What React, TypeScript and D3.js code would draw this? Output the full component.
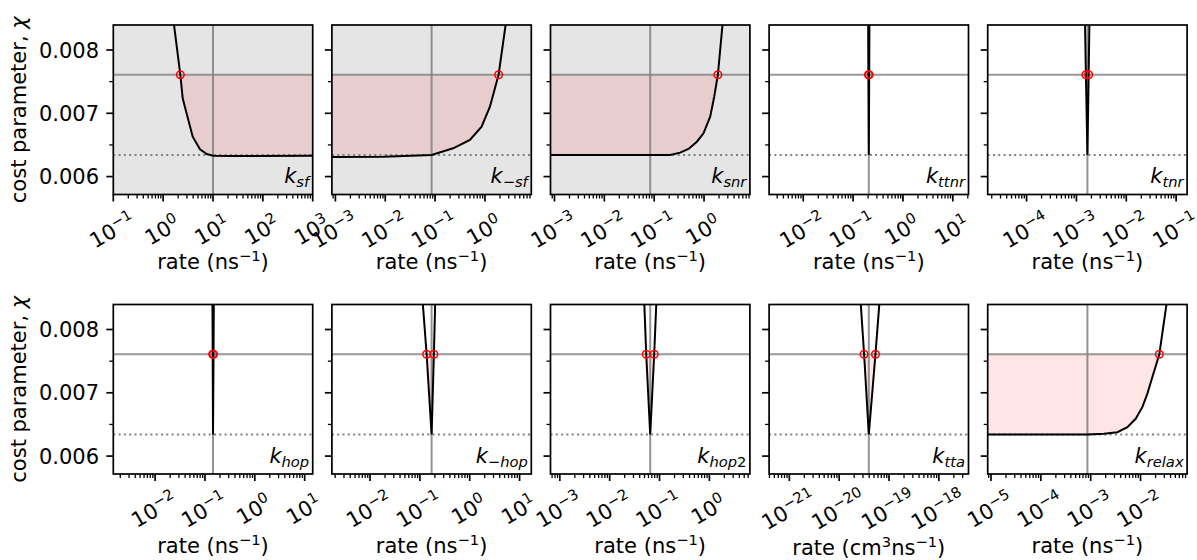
import * as React from 'react';
import * as d3 from 'd3';

// cost threshold (solid gray line) and minimum cost (dotted line)
const threshold = 0.00761;
const chiMin = 0.006341;
const yDomain = [0.005717, 0.008395];
const yMajor = [0.006, 0.007, 0.008];
const yMinor = [0.0065, 0.0075];
const yTickLabels = ['0.006', '0.007', '0.008'];

// subscripts of the rate constants, one per panel
const subscripts = ['sf', '\u2212sf', 'snr', 'ttnr', 'tnr', 'hop', '\u2212hop', 'hop2', 'tta', 'relax'];
// best-fit rates (vertical gray line, centre of each log axis)
const centerRates = [10, 0.0851, 0.0832, 0.2065, 1.66e-3, 0.145, 0.1718, 0.065, 3.93e-20, 8.59e-4];
const constrained = [true, true, true, false, false, false, false, false, false, false];
const cmUnits = [false, false, false, false, false, false, false, false, true, false];

// cost curves: [rate, chi]
const curveKsf = [[1.59, 0.0085], [2.208, 0.00761], [2.466, 0.007237], [3.199, 0.006894], [3.917, 0.00663], [5.483, 0.006431], [7.482, 0.006357], [10.14, 0.00633], [25.7, 0.006325], [1000, 0.00633]];
const curveKmsf = [[8.32e-4, 0.00631], [9.12e-3, 0.006314], [0.0851, 0.00634], [0.2307, 0.006447], [0.4989, 0.006578], [0.857, 0.006788], [1.259, 0.007104], [1.879, 0.00761], [2.71, 0.0085]];
const curveKsnr = [[7.94e-4, 0.00634], [0.2094, 0.00634], [0.3327, 0.006378], [0.4875, 0.006436], [0.7194, 0.006551], [0.975, 0.006684], [1.33, 0.006946], [1.6, 0.007262], [1.897, 0.00761], [2.41, 0.0085]];
const curveKttnr = [[0.2004, 0.0085], [0.2028, 0.00761], [0.2065, 0.006341], [0.2104, 0.00761], [0.2128, 0.0085]];
const curveKtnr = [[1.479e-3, 0.0085], [1.549e-3, 0.00761], [1.66e-3, 0.006341], [1.758e-3, 0.00761], [1.828e-3, 0.0085]];
const curveKhop = [[0.1413, 0.0085], [0.1429, 0.00761], [0.145, 0.006341], [0.1486, 0.00761], [0.1507, 0.0085]];
const curveKmhop = [[0.1122, 0.0085], [0.1365, 0.00761], [0.1718, 0.006341], [0.191, 0.00761], [0.2042, 0.0085]];
const curveKhop2 = [[0.049, 0.0085], [0.0541, 0.00761], [0.065, 0.006341], [0.0782, 0.00761], [0.0871, 0.0085]];
const curveKtta = [[2.661e-20, 0.0085], [3.162e-20, 0.00761], [3.93e-20, 0.006341], [5.346e-20, 0.00761], [6.531e-20, 0.0085]];
const curveKrelax = [[7.94e-6, 0.006341], [8.59e-4, 0.006341], [1.849e-3, 0.006352], [3.428e-3, 0.006378], [5.445e-3, 0.006457], [7.98e-3, 0.006589], [0.01086, 0.006773], [0.01368, 0.006984], [0.01722, 0.007246], [0.02382, 0.00761], [0.0346, 0.0085]];
const curves = [curveKsf, curveKmsf, curveKsnr, curveKttnr, curveKtnr, curveKhop, curveKmhop, curveKhop2, curveKtta, curveKrelax];

// where each curve crosses the threshold (red circles)
const crossings = [[2.208], [1.879], [1.897], [0.2028, 0.2104], [1.549e-3, 1.758e-3], [0.1429, 0.1486], [0.1365, 0.191], [0.0541, 0.0782], [3.162e-20, 5.346e-20], [0.02382]];

const font = 'DejaVu Sans';
const fs = 21;
const sup = 14.7;
const left0 = 113.3;
const step = 218.6;
const pw = 199.4;
const ph = 169.5;
const rowTops = [25, 304.5];
const xlabelY = [269, 553];

const expText = (k) => (k < 0 ? '\u2212' + Math.abs(k) : String(k));

const Panel = ({ i }) => {
  const row = Math.floor(i / 5);
  const col = i % 5;
  const x0 = left0 + col * step;
  const y0 = rowTops[row];
  const c = centerRates[i];
  const x = d3.scaleLog().domain([c / 100, c * 100]).range([0, pw]);
  const y = d3.scaleLinear().domain(yDomain).range([ph, 0]);
  const pts = curves[i];
  const line = d3.line().x((d) => x(d[0])).y((d) => y(d[1]));
  const area = d3
    .area()
    .x((d) => x(d[0]))
    .y0(y(threshold))
    .y1((d) => y(Math.min(d[1], threshold)));

  const lo = Math.log10(c / 100);
  const hi = Math.log10(c * 100);
  const majors = d3.range(Math.ceil(lo - 1e-6), Math.floor(hi + 1e-6) + 1);
  const minors = [];
  d3.range(Math.floor(lo), Math.ceil(hi) + 1).forEach((k) => {
    for (let m = 2; m <= 9; m++) {
      const v = m * Math.pow(10, k);
      const lv = Math.log10(v);
      if (lv >= lo && lv <= hi) minors.push(v);
    }
  });
  const clipId = `clip${i}`;
  const sub = subscripts[i];

  return (
    <g transform={`translate(${x0},${y0})`}>
      <defs>
        <clipPath id={clipId}>
          <rect x={0} y={0} width={pw} height={ph} />
        </clipPath>
      </defs>
      <rect x={0} y={0} width={pw} height={ph} fill={constrained[i] ? '#e5e5e5' : '#ffffff'} />
      <g clipPath={`url(#${clipId})`}>
        <path d={area(pts)} fill='red' fillOpacity={0.1} />
        <line x1={x(c)} x2={x(c)} y1={0} y2={ph} stroke='#808080' strokeOpacity={0.85} strokeWidth={2} />
        <line x1={0} x2={pw} y1={y(threshold)} y2={y(threshold)} stroke='#808080' strokeOpacity={0.8} strokeWidth={2} />
        <line x1={0} x2={pw} y1={y(chiMin)} y2={y(chiMin)} stroke='#808080' strokeWidth={2} strokeDasharray='2 3.3' />
        <path d={line(pts)} fill='none' stroke='black' strokeWidth={2} />
      </g>
      {crossings[i].map((r, j) => (
        <circle key={j} cx={x(r)} cy={y(threshold)} r={3.8} fill='none' stroke='red' strokeWidth={1.5} />
      ))}
      <rect x={0} y={0} width={pw} height={ph} fill='none' stroke='black' strokeWidth={1.7} />
      {yMajor.map((v) => (
        <line key={v} x1={-7} x2={0} y1={y(v)} y2={y(v)} stroke='black' strokeWidth={1.7} />
      ))}
      {yMinor.map((v) => (
        <line key={v} x1={-4} x2={0} y1={y(v)} y2={y(v)} stroke='black' strokeWidth={1.3} />
      ))}
      {col === 0 &&
        yMajor.map((v, j) => (
          <text key={v} x={-14.3} y={y(v)} dy='0.365em' textAnchor='end' fontFamily={font} fontSize={fs}>
            {yTickLabels[j]}
          </text>
        ))}
      {majors.map((k) => (
        <line key={k} x1={x(Math.pow(10, k))} x2={x(Math.pow(10, k))} y1={ph} y2={ph + 7} stroke='black' strokeWidth={1.7} />
      ))}
      {minors.map((v, j) => (
        <line key={j} x1={x(v)} x2={x(v)} y1={ph} y2={ph + 4} stroke='black' strokeWidth={1.3} />
      ))}
      {majors.map((k) => (
        <g key={k} transform={`translate(${x(Math.pow(10, k)) - 2},${ph + 34}) rotate(-30)`}>
          <text x={0} y={9.4} textAnchor='middle' fontFamily={font} fontSize={fs}>
            10
            <tspan dy={-8} fontSize={sup}>
              {expText(k)}
            </tspan>
          </text>
        </g>
      ))}
      <text x={pw / 2} y={xlabelY[row] - y0 + (cmUnits[i] ? 1.5 : 0)} textAnchor='middle' fontFamily={font} fontSize={fs}>
        rate (
        {cmUnits[i] && (
          <>
            cm
            <tspan dy={-8} fontSize={sup}>
              3
            </tspan>
            <tspan dy={8}>ns</tspan>
          </>
        )}
        {!cmUnits[i] && 'ns'}
        <tspan dy={-8} fontSize={sup}>
          {'\u22121'}
        </tspan>
        <tspan dy={8}>)</tspan>
      </text>
      <text x={pw - 3.5} y={ph - 11.5} textAnchor='end' fontFamily={font} fontSize={fs}>
        <tspan fontStyle='italic'>k</tspan>
        {sub.split('').map((ch, j) => (
          <tspan
            key={j}
            dy={j === 0 ? 4 : 0}
            fontSize={sup}
            fontStyle={ch === '\u2212' || /[0-9]/.test(ch) ? 'normal' : 'italic'}>
            {ch}
          </tspan>
        ))}
      </text>
    </g>
  );
};

const App = () => {
  return (
    <svg width={1197} height={560} style={{ position: 'absolute', left: 0, top: 0 }}>
      <rect width={1197} height={560} fill='white' />
      {rowTops.map((t, r) => (
        <text
          key={r}
          transform={`translate(26,${t + ph / 2}) rotate(-90)`}
          textAnchor='middle'
          fontFamily={font}
          fontSize={fs}>
          cost parameter, <tspan fontStyle='italic'>χ</tspan>
        </text>
      ))}
      {curves.map((_, i) => (
        <Panel key={i} i={i} />
      ))}
    </svg>
  );
};

export default App;
